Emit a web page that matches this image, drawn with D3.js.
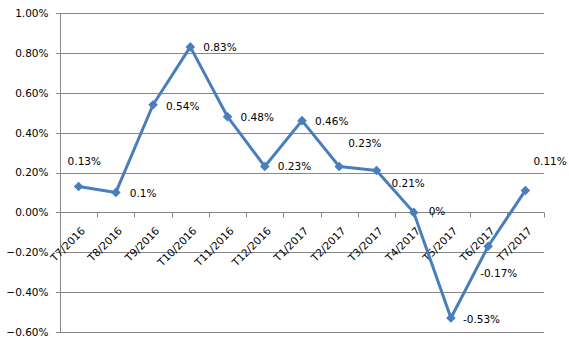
<!DOCTYPE html>
<html>
<head>
<meta charset="utf-8">
<script src="https://cdn.jsdelivr.net/npm/d3@7"></script>
<style>
  body { margin: 0; background: #fff; }
  text { font-family: "DejaVu Sans", Verdana, sans-serif; font-size: 10.5px; fill: #000; }
</style>
</head>
<body>
<div id="chart"></div>
<script>
// data
var months = ["T7/2016", "T8/2016", "T9/2016", "T10/2016", "T11/2016", "T12/2016",
              "T1/2017", "T2/2017", "T3/2017", "T4/2017", "T5/2017", "T6/2017", "T7/2017"];
var values = [0.13, 0.10, 0.54, 0.83, 0.48, 0.23, 0.46, 0.23, 0.21, 0.00, -0.53, -0.17, 0.11];
var valueLabels = ["0.13%", "0.1%", "0.54%", "0.83%", "0.48%", "0.23%", "0.46%", "0.23%",
                   "0.21%", "0%", "-0.53%", "-0.17%", "0.11%"];
var yTicks = [1.0, 0.8, 0.6, 0.4, 0.2, 0.0, -0.2, -0.4, -0.6];

// label offsets from each point (the labels were moved by hand in the original)
var labelDx = [-11, 14, 13, 13, 13, 13, 13, 9, 15, 15, 12, -8, 8];
var labelDy = [-21, 5, 5, 4, 4, 3, 4, -20, 16, 3, 5, 31, -25];

var width = 569, height = 353;
var margin = { top: 13, right: 25, bottom: 21, left: 60 };

var svg = d3.select("#chart")
  .append("svg")
  .attr("width", width)
  .attr("height", height);

var xScale = d3.scaleBand()
  .domain(months)
  .range([margin.left, width - margin.right])
  .padding(0);

var yScale = d3.scaleLinear()
  .domain([-0.6, 1.0])
  .range([height - margin.bottom, margin.top]);

// gridlines
svg.append("g")
  .selectAll("line")
  .data(yTicks)
  .enter()
  .append("line")
  .attr("x1", margin.left - 4)
  .attr("x2", width - margin.right)
  .attr("y1", function(d) { return Math.round(yScale(d)) + 0.5; })
  .attr("y2", function(d) { return Math.round(yScale(d)) + 0.5; })
  .attr("stroke", "#868686")
  .attr("stroke-width", 1);

// y axis
var yAxis = d3.axisLeft(yScale)
  .tickValues(yTicks)
  .tickSize(0)
  .tickPadding(12)
  .tickFormat(function(d) { return d3.format(".2f")(d) + "%"; });

var gy = svg.append("g")
  .attr("transform", "translate(" + (margin.left + 0.5) + ",0)")
  .call(yAxis);
gy.select(".domain")
  .attr("stroke", "#868686")
  .attr("d", "M0," + yScale(1.0) + "V" + (yScale(-0.6) + 0.5));
gy.selectAll("text").style("font-family", "DejaVu Sans").style("font-size", "10.5px").attr("fill", "#000");

// category ticks on the zero line
var zeroY = Math.round(yScale(0)) + 0.5;
var boundaries = months.map(function(m) { return xScale(m); }).concat([width - margin.right]);
svg.append("g")
  .selectAll("line")
  .data(boundaries)
  .enter()
  .append("line")
  .attr("x1", function(d) { return Math.round(d) + 0.5; })
  .attr("x2", function(d) { return Math.round(d) + 0.5; })
  .attr("y1", zeroY)
  .attr("y2", zeroY + 5)
  .attr("stroke", "#868686");

// rotated category labels
svg.append("g")
  .selectAll("text")
  .data(months)
  .enter()
  .append("text")
  .attr("text-anchor", "end")
  .attr("transform", function(d) {
    var cx = xScale(d) + xScale.bandwidth() / 2 + 7;
    return "translate(" + cx + "," + (zeroY + 19) + ") rotate(-45)";
  })
  .text(function(d) { return d; });

// line
var line = d3.line()
  .x(function(d, i) { return xScale(months[i]) + xScale.bandwidth() / 2; })
  .y(function(d) { return yScale(d); });

svg.append("path")
  .datum(values)
  .attr("fill", "none")
  .attr("stroke", "#4a7ebb")
  .attr("stroke-width", 3)
  .attr("stroke-linejoin", "round")
  .attr("d", line);

// diamond markers
var diamond = d3.symbol().type(d3.symbolSquare).size(46);
svg.append("g")
  .selectAll("path")
  .data(values)
  .enter()
  .append("path")
  .attr("d", diamond)
  .attr("fill", "#4a7ebb")
  .attr("transform", function(d, i) {
    return "translate(" + (xScale(months[i]) + xScale.bandwidth() / 2) + "," + yScale(d) + ") rotate(45)";
  });

// data labels
svg.append("g")
  .selectAll("text")
  .data(values)
  .enter()
  .append("text")
  .attr("x", function(d, i) { return xScale(months[i]) + xScale.bandwidth() / 2 + labelDx[i]; })
  .attr("y", function(d, i) { return yScale(d) + labelDy[i]; })
  .text(function(d, i) { return valueLabels[i]; });
</script>
</body>
</html>
